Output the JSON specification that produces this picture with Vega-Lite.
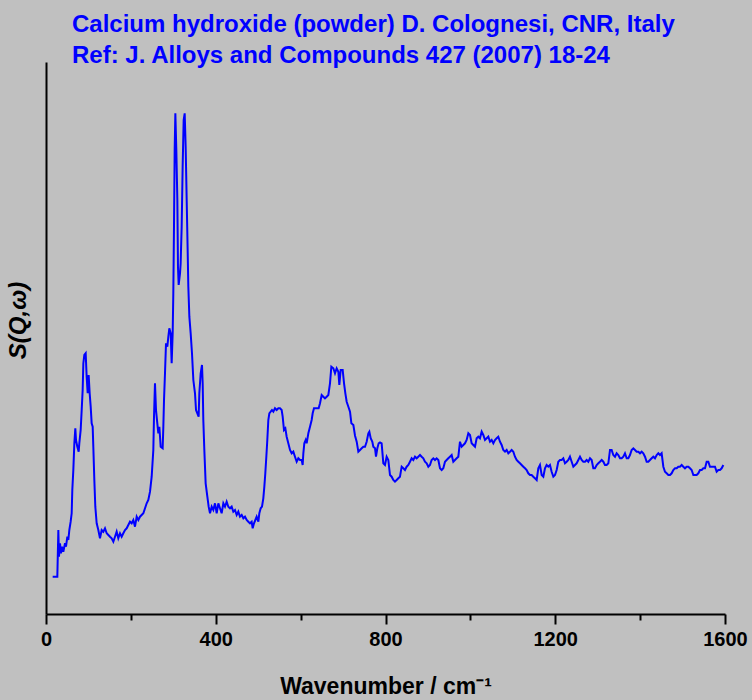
{
  "$schema": "https://vega.github.io/schema/vega-lite/v6.json",
  "width": 679,
  "height": 552,
  "autosize": {"type": "none"},
  "padding": {"left": 46, "top": 62, "right": 27, "bottom": 86},
  "background": "#c0c0c0",
  "config": {"view": {"stroke": null}, "font": "Liberation Sans"},
  "title": {
    "text": ["Calcium hydroxide (powder) D. Colognesi, CNR, Italy", "Ref: J. Alloys and Compounds 427 (2007) 18-24"],
    "anchor": "start",
    "frame": "group",
    "dx": 26,
    "offset": -25,
    "baseline": "alphabetic",
    "lineHeight": 31,
    "font": "Liberation Sans",
    "fontSize": 24,
    "fontWeight": "bold",
    "color": "#0000ff"
  },
  "data": {"values": [
    {"wn":15.7,"sqw":37.3},{"wn":26.7,"sqw":37.3},{"wn":29.1,"sqw":84},{"wn":30.6,"sqw":57.3},{"wn":33.0,"sqw":70.7},{"wn":35.3,"sqw":60.7},{"wn":37.7,"sqw":67.3},{"wn":40.8,"sqw":62.3},{"wn":44.8,"sqw":70.7},{"wn":47.1,"sqw":67.3},{"wn":50.3,"sqw":77.3},{"wn":52.6,"sqw":74},{"wn":55.0,"sqw":84},{"wn":58.1,"sqw":92.3},{"wn":60.5,"sqw":100.7},{"wn":62.0,"sqw":124},{"wn":64.4,"sqw":144},{"wn":66.8,"sqw":170.7},{"wn":69.1,"sqw":185.7},{"wn":70.7,"sqw":174},{"wn":73.8,"sqw":167.3},{"wn":77.0,"sqw":162.3},{"wn":78.5,"sqw":170.7},{"wn":81.7,"sqw":184},{"wn":84.1,"sqw":204},{"wn":86.4,"sqw":224},{"wn":88.0,"sqw":250.7},{"wn":90.3,"sqw":259},{"wn":93.5,"sqw":260.7},{"wn":95.8,"sqw":237.3},{"wn":98.2,"sqw":220.7},{"wn":100.5,"sqw":239},{"wn":102.9,"sqw":220.7},{"wn":105.3,"sqw":207.3},{"wn":107.6,"sqw":190.7},{"wn":110.0,"sqw":187.3},{"wn":111.5,"sqw":167.3},{"wn":113.9,"sqw":134},{"wn":116.2,"sqw":107.3},{"wn":119.4,"sqw":90.7},{"wn":123.3,"sqw":84},{"wn":127.2,"sqw":75.7},{"wn":131.2,"sqw":84},{"wn":135.1,"sqw":82.3},{"wn":139.0,"sqw":85.7},{"wn":143.0,"sqw":80.7},{"wn":146.9,"sqw":79},{"wn":150.8,"sqw":77.3},{"wn":154.7,"sqw":75.7},{"wn":158.7,"sqw":72.3},{"wn":162.6,"sqw":77.3},{"wn":166.5,"sqw":82.3},{"wn":170.4,"sqw":75.7},{"wn":174.4,"sqw":80.7},{"wn":178.3,"sqw":77.3},{"wn":182.2,"sqw":80.7},{"wn":186.2,"sqw":84},{"wn":190.1,"sqw":85.7},{"wn":194.0,"sqw":89},{"wn":197.9,"sqw":92.3},{"wn":201.9,"sqw":90.7},{"wn":205.8,"sqw":94},{"wn":209.7,"sqw":87.3},{"wn":213.7,"sqw":97.3},{"wn":217.6,"sqw":94},{"wn":221.5,"sqw":97.3},
    {"wn":229.4,"sqw":100.7},{"wn":237.2,"sqw":110.7},{"wn":241.1,"sqw":114},{"wn":245.1,"sqw":122.3},{"wn":249.0,"sqw":137.3},{"wn":252.9,"sqw":164},{"wn":254.5,"sqw":197.3},{"wn":256.8,"sqw":230.7},{"wn":259.2,"sqw":204},{"wn":262.3,"sqw":190.7},{"wn":264.7,"sqw":180.7},{"wn":267.1,"sqw":187.3},{"wn":270.2,"sqw":167.3},{"wn":274.9,"sqw":165.7},{"wn":276.5,"sqw":187.3},{"wn":278.1,"sqw":214},{"wn":280.4,"sqw":240.7},{"wn":282.8,"sqw":270.7},{"wn":285.9,"sqw":267.3},{"wn":288.3,"sqw":277.3},{"wn":290.6,"sqw":285.7},{"wn":293.8,"sqw":280.7},{"wn":296.1,"sqw":250.7},{"wn":298.5,"sqw":280.7},{"wn":300.0,"sqw":320.7},{"wn":301.6,"sqw":387.3},{"wn":303.2,"sqw":464},{"wn":304.8,"sqw":500.7},{"wn":307.1,"sqw":464},{"wn":309.5,"sqw":414},{"wn":311.0,"sqw":347.3},{"wn":312.6,"sqw":329},{"wn":315.8,"sqw":340.7},{"wn":317.3,"sqw":350.7},{"wn":319.7,"sqw":387.3},{"wn":322.0,"sqw":447.3},{"wn":324.4,"sqw":494},{"wn":326.8,"sqw":500.7},{"wn":329.1,"sqw":467.3},{"wn":331.5,"sqw":414},{"wn":333.8,"sqw":364},{"wn":335.4,"sqw":327.3},{"wn":337.8,"sqw":297.3},{"wn":340.9,"sqw":280.7},{"wn":344.0,"sqw":260.7},{"wn":347.2,"sqw":234},{"wn":351.1,"sqw":220.7},{"wn":353.5,"sqw":204},{"wn":356.6,"sqw":200.7},{"wn":359.7,"sqw":197.3},{"wn":361.3,"sqw":220.7},{"wn":364.5,"sqw":240.7},{"wn":367.6,"sqw":249},{"wn":369.2,"sqw":230.7},{"wn":370.7,"sqw":194},{"wn":373.1,"sqw":164},{"wn":376.2,"sqw":130.7},{"wn":380.2,"sqw":117.3},{"wn":383.3,"sqw":107.3},{"wn":386.5,"sqw":100.7},{"wn":390.4,"sqw":107.3},{"wn":394.3,"sqw":104},{"wn":398.2,"sqw":110.7},{"wn":402.2,"sqw":100.7},{"wn":406.1,"sqw":110.7},{"wn":410.0,"sqw":105.7},{"wn":413.9,"sqw":100.7},{"wn":417.9,"sqw":110.7},{"wn":421.8,"sqw":107.3},{"wn":425.7,"sqw":112.3},{"wn":429.6,"sqw":107.3},{"wn":433.6,"sqw":105.7},{"wn":437.5,"sqw":107.3},{"wn":441.4,"sqw":102.3},{"wn":445.4,"sqw":104},{"wn":449.3,"sqw":99},{"wn":453.2,"sqw":102.3},{"wn":457.1,"sqw":97.3},{"wn":461.1,"sqw":99},{"wn":465.0,"sqw":95.7},{"wn":468.9,"sqw":97.3},{"wn":472.9,"sqw":94},{"wn":476.8,"sqw":92.3},{"wn":480.7,"sqw":90.7},{"wn":484.6,"sqw":92.3},{"wn":487.0,"sqw":85.7},{"wn":490.1,"sqw":90.7},{"wn":493.3,"sqw":94},{"wn":496.4,"sqw":97.3},{"wn":500.4,"sqw":92.3},{"wn":502.7,"sqw":100.7},{"wn":505.9,"sqw":105.7},{"wn":509.0,"sqw":107.3},{"wn":512.1,"sqw":115.7},{"wn":514.5,"sqw":127.3},{"wn":516.8,"sqw":140.7},{"wn":519.2,"sqw":157.3},{"wn":521.5,"sqw":174},{"wn":523.9,"sqw":194},{"wn":526.3,"sqw":200.7},{"wn":529.4,"sqw":202.3},{"wn":532.5,"sqw":204},{"wn":535.7,"sqw":202.3},{"wn":539.6,"sqw":205.7},{"wn":543.5,"sqw":204},{"wn":547.5,"sqw":205.7},{"wn":551.4,"sqw":205.7},{"wn":555.3,"sqw":204},{"wn":557.7,"sqw":197.3},{"wn":560.8,"sqw":184},{"wn":564.0,"sqw":185.7},{"wn":567.1,"sqw":177.3},{"wn":571.0,"sqw":170.7},{"wn":575.0,"sqw":164},{"wn":578.9,"sqw":160.7},{"wn":582.8,"sqw":162.3},{"wn":586.7,"sqw":157.3},{"wn":590.7,"sqw":152.3},{"wn":594.6,"sqw":155.7},{"wn":598.5,"sqw":154},{"wn":602.5,"sqw":154},{"wn":604.8,"sqw":149},{"wn":606.4,"sqw":160.7},{"wn":608.7,"sqw":170.7},{"wn":611.9,"sqw":174},{"wn":614.2,"sqw":170.7},{"wn":618.2,"sqw":180.7},{"wn":622.1,"sqw":187.3},{"wn":626.0,"sqw":194},{"wn":628.4,"sqw":200.7},{"wn":631.5,"sqw":205.7},{"wn":637.8,"sqw":205.7},{"wn":642.5,"sqw":205.7},{"wn":645.7,"sqw":210.7},{"wn":649.6,"sqw":219},{"wn":653.5,"sqw":217.3},{"wn":657.4,"sqw":215.7},{"wn":661.4,"sqw":217.3},{"wn":665.3,"sqw":219},{"wn":669.2,"sqw":230.7},{"wn":672.4,"sqw":247.3},{"wn":677.1,"sqw":245.7},{"wn":681.0,"sqw":240.7},{"wn":684.9,"sqw":245.7},{"wn":688.9,"sqw":242.3},{"wn":691.2,"sqw":229},{"wn":694.4,"sqw":244},{"wn":699.1,"sqw":244},{"wn":702.3,"sqw":230.7},{"wn":705.4,"sqw":220.7},{"wn":708.5,"sqw":212.3},{"wn":712.5,"sqw":207.3},{"wn":716.4,"sqw":202.3},{"wn":719.6,"sqw":190.7},{"wn":724.3,"sqw":189},{"wn":728.2,"sqw":178.3},{"wn":732.1,"sqw":172.3},{"wn":736.0,"sqw":162.3},{"wn":740.0,"sqw":164},{"wn":743.9,"sqw":165.7},{"wn":747.8,"sqw":167.3},{"wn":751.7,"sqw":167.3},{"wn":755.6,"sqw":172.3},{"wn":759.6,"sqw":180.7},{"wn":761.9,"sqw":182.3},{"wn":765.1,"sqw":175.7},{"wn":769.0,"sqw":172.3},{"wn":771.3,"sqw":167.3},{"wn":775.3,"sqw":165.7},{"wn":777.6,"sqw":157.3},{"wn":780.8,"sqw":165.7},{"wn":783.9,"sqw":170.7},{"wn":787.0,"sqw":171.5},
    {"wn":790.9,"sqw":170.7},{"wn":794.9,"sqw":150.7},{"wn":798.8,"sqw":149},{"wn":802.7,"sqw":157.3},{"wn":806.6,"sqw":154},{"wn":810.6,"sqw":139},{"wn":814.5,"sqw":137.3},{"wn":818.4,"sqw":134},{"wn":822.3,"sqw":132.3},{"wn":826.3,"sqw":134},{"wn":830.2,"sqw":135.7},{"wn":834.1,"sqw":137.3},{"wn":838.1,"sqw":147.3},{"wn":842.0,"sqw":145.7},{"wn":845.9,"sqw":144},{"wn":849.8,"sqw":147.3},{"wn":853.8,"sqw":149},{"wn":857.7,"sqw":152.3},{"wn":861.6,"sqw":155.7},{"wn":865.5,"sqw":154},{"wn":869.5,"sqw":157.3},{"wn":873.4,"sqw":155.7},{"wn":877.3,"sqw":157.3},{"wn":881.3,"sqw":159},{"wn":885.2,"sqw":157.3},{"wn":889.1,"sqw":155.7},{"wn":893.0,"sqw":152.3},{"wn":897.0,"sqw":150.7},{"wn":900.9,"sqw":147.3},{"wn":904.8,"sqw":149},{"wn":908.7,"sqw":154},{"wn":912.7,"sqw":155.7},{"wn":916.6,"sqw":154},{"wn":920.5,"sqw":155.7},{"wn":924.5,"sqw":154},{"wn":928.4,"sqw":145.7},{"wn":932.3,"sqw":144},{"wn":936.2,"sqw":145.7},{"wn":940.2,"sqw":152.3},{"wn":944.1,"sqw":154},{"wn":948.0,"sqw":155.7},{"wn":951.9,"sqw":157.3},{"wn":955.9,"sqw":159},{"wn":959.8,"sqw":152.3},{"wn":963.7,"sqw":154},{"wn":967.7,"sqw":155.7},{"wn":971.6,"sqw":157.3},{"wn":975.5,"sqw":172.3},{"wn":979.4,"sqw":167.3},{"wn":983.4,"sqw":169},{"wn":987.3,"sqw":170.7},{"wn":991.2,"sqw":174},{"wn":995.2,"sqw":180.7},{"wn":999.1,"sqw":179},{"wn":1003.0,"sqw":170.7},{"wn":1006.9,"sqw":169},{"wn":1010.9,"sqw":167.3},{"wn":1014.8,"sqw":175.7},{"wn":1018.7,"sqw":177.3},{"wn":1022.6,"sqw":175.7},{"wn":1026.6,"sqw":182.3},{"wn":1030.5,"sqw":179},{"wn":1034.4,"sqw":174},{"wn":1038.4,"sqw":175.7},{"wn":1042.3,"sqw":177.3},{"wn":1046.2,"sqw":172.3},{"wn":1050.1,"sqw":174},{"wn":1054.1,"sqw":170.7},{"wn":1058.0,"sqw":174},{"wn":1061.9,"sqw":175.7},{"wn":1065.8,"sqw":177.3},{"wn":1069.8,"sqw":172.3},{"wn":1073.7,"sqw":169},{"wn":1077.6,"sqw":164},{"wn":1081.6,"sqw":162.3},{"wn":1085.5,"sqw":164},{"wn":1089.4,"sqw":160.7},{"wn":1093.3,"sqw":162.3},{"wn":1097.3,"sqw":164},{"wn":1101.2,"sqw":162.3},{"wn":1105.1,"sqw":157.3},{"wn":1109.0,"sqw":154},{"wn":1113.0,"sqw":152.3},{"wn":1116.9,"sqw":150.7},{"wn":1120.8,"sqw":149},{"wn":1124.8,"sqw":147.3},{"wn":1128.7,"sqw":145.7},{"wn":1132.6,"sqw":144},{"wn":1136.5,"sqw":140.7},{"wn":1140.5,"sqw":139},{"wn":1144.4,"sqw":139},{"wn":1148.3,"sqw":137.3},{"wn":1152.2,"sqw":135.7},{"wn":1156.2,"sqw":134},{"wn":1160.1,"sqw":145.7},{"wn":1164.0,"sqw":149},{"wn":1168.0,"sqw":139},{"wn":1171.9,"sqw":137.3},{"wn":1175.8,"sqw":145.7},{"wn":1179.7,"sqw":149},{"wn":1183.7,"sqw":147.3},{"wn":1187.6,"sqw":149},{"wn":1191.5,"sqw":142.3},{"wn":1195.5,"sqw":137.3},{"wn":1199.4,"sqw":139},{"wn":1203.3,"sqw":144},{"wn":1207.2,"sqw":152.3},{"wn":1211.2,"sqw":154},{"wn":1215.1,"sqw":154},{"wn":1219.0,"sqw":155.7},{"wn":1222.9,"sqw":150.7},{"wn":1226.9,"sqw":152.3},{"wn":1230.8,"sqw":154},{"wn":1234.7,"sqw":157.3},{"wn":1238.7,"sqw":152.3},{"wn":1242.6,"sqw":147.3},{"wn":1246.5,"sqw":149},{"wn":1250.4,"sqw":150.7},{"wn":1254.4,"sqw":154},{"wn":1258.3,"sqw":157.3},{"wn":1262.2,"sqw":154},{"wn":1266.1,"sqw":152.3},{"wn":1270.1,"sqw":152.3},{"wn":1274.0,"sqw":154},{"wn":1277.9,"sqw":152.3},{"wn":1281.9,"sqw":155.7},{"wn":1285.8,"sqw":154},{"wn":1289.7,"sqw":145.7},{"wn":1293.6,"sqw":145.7},{"wn":1297.6,"sqw":149},{"wn":1301.5,"sqw":150.7},{"wn":1305.4,"sqw":152.3},{"wn":1309.4,"sqw":154},{"wn":1313.3,"sqw":152.3},{"wn":1317.2,"sqw":149},{"wn":1321.1,"sqw":149},{"wn":1325.1,"sqw":150.7},{"wn":1329.0,"sqw":164},{"wn":1332.9,"sqw":164},{"wn":1336.8,"sqw":159},{"wn":1340.8,"sqw":157.3},{"wn":1344.7,"sqw":160.7},{"wn":1348.6,"sqw":159},{"wn":1352.6,"sqw":155.7},{"wn":1356.5,"sqw":155.7},{"wn":1360.4,"sqw":157.3},{"wn":1364.3,"sqw":160.7},{"wn":1368.3,"sqw":155.7},{"wn":1372.2,"sqw":155.7},{"wn":1376.1,"sqw":159},{"wn":1380.0,"sqw":164},{"wn":1384.0,"sqw":165.7},{"wn":1387.9,"sqw":164},{"wn":1391.8,"sqw":162.3},{"wn":1395.8,"sqw":162.3},{"wn":1399.7,"sqw":160.7},{"wn":1403.6,"sqw":162.3},{"wn":1407.5,"sqw":160.7},{"wn":1411.5,"sqw":157.3},{"wn":1415.4,"sqw":152.3},{"wn":1419.3,"sqw":152.3},{"wn":1423.2,"sqw":154},{"wn":1427.2,"sqw":155.7},{"wn":1431.1,"sqw":157.3},{"wn":1435.0,"sqw":155.7},{"wn":1439.0,"sqw":159},{"wn":1442.9,"sqw":160.7},{"wn":1446.8,"sqw":159},{"wn":1450.7,"sqw":160.7},{"wn":1454.7,"sqw":147.3},{"wn":1458.6,"sqw":142.3},{"wn":1462.5,"sqw":140.7},{"wn":1466.5,"sqw":139},{"wn":1470.4,"sqw":139},{"wn":1474.3,"sqw":140.7},{"wn":1478.2,"sqw":144},{"wn":1482.2,"sqw":145.7},{"wn":1486.1,"sqw":145.7},{"wn":1490.0,"sqw":147.3},{"wn":1493.9,"sqw":147.3},{"wn":1497.9,"sqw":149},{"wn":1501.8,"sqw":147.3},{"wn":1505.7,"sqw":145.7},{"wn":1509.7,"sqw":147.3},{"wn":1513.6,"sqw":147.3},{"wn":1517.5,"sqw":145.7},{"wn":1521.4,"sqw":144},{"wn":1525.4,"sqw":139},{"wn":1529.3,"sqw":139},{"wn":1533.2,"sqw":139},{"wn":1537.1,"sqw":140.7},{"wn":1541.1,"sqw":144},{"wn":1545.0,"sqw":144},{"wn":1548.9,"sqw":145.7},{"wn":1552.9,"sqw":145.7},{"wn":1556.8,"sqw":152.3},{"wn":1560.7,"sqw":152.3},{"wn":1564.6,"sqw":147.3},{"wn":1568.6,"sqw":147.3},{"wn":1572.5,"sqw":147.3},{"wn":1576.4,"sqw":147.3},{"wn":1580.3,"sqw":142.3},{"wn":1584.3,"sqw":144},{"wn":1588.2,"sqw":144},{"wn":1592.1,"sqw":145.7},{"wn":1596.1,"sqw":149}
  ]},
  "resolve": {"axis": {"x": "independent", "y": "independent"}},
  "layer": [
    {
      "mark": {"type": "line", "color": "#0000ff", "strokeWidth": 2, "interpolate": "linear"},
      "encoding": {
        "x": {
          "field": "wn", "type": "quantitative",
          "scale": {"domain": [0, 1600], "nice": false, "zero": false},
          "axis": {
            "orient": "bottom",
            "values": [0, 400, 800, 1200, 1600],
            "format": "d",
            "grid": false,
            "domainColor": "#000000", "domainWidth": 2,
            "tickColor": "#000000", "tickWidth": 2, "tickSize": 10,
            "labelFont": "Liberation Sans", "labelFontWeight": "bold", "labelFontSize": 20, "labelColor": "#000000",
            "labelPadding": 5, "labelFlush": false, "labelOverlap": false,
            "title": "Wavenumber / cm⁻¹",
            "titleFont": "Liberation Sans", "titleFontWeight": "bold", "titleFontSize": 23, "titleColor": "#000000",
            "titleBaseline": "alphabetic", "titleY": 79
          }
        },
        "y": {
          "field": "sqw", "type": "quantitative",
          "scale": {"domain": [0, 552], "nice": false, "zero": false},
          "axis": {
            "orient": "left",
            "grid": false, "ticks": false, "labels": false,
            "domainColor": "#000000", "domainWidth": 2,
            "title": "S(Q,ω)",
            "titleFont": "Liberation Sans", "titleFontWeight": "bold", "titleFontStyle": "italic", "titleFontSize": 24, "titleColor": "#000000",
            "titleAngle": 270, "titleBaseline": "alphabetic", "titleAlign": "center", "titleX": -21, "titleY": 258
          }
        }
      }
    },
    {
      "mark": {"type": "line", "strokeOpacity": 0},
      "encoding": {
        "x": {
          "field": "wn", "type": "quantitative",
          "axis": {
            "orient": "bottom",
            "values": [200, 600, 1000, 1400],
            "grid": false, "domain": false, "labels": false, "title": null,
            "tickColor": "#000000", "tickWidth": 2, "tickSize": 6
          }
        },
        "y": {"field": "sqw", "type": "quantitative", "axis": null}
      }
    }
  ]
}
